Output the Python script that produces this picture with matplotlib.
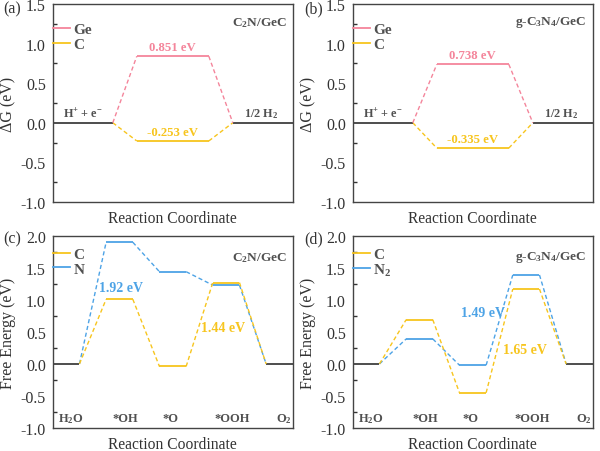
import numpy as np
import matplotlib
matplotlib.use('Agg')
import matplotlib.pyplot as plt

plt.rcParams['font.family'] = ['Liberation Serif', 'DejaVu Serif']
plt.rcParams['mathtext.default'] = 'regular'

# colours
PINK = '#F4859B'
YEL = '#F7C51E'
BLUE = '#4DA3E6'
GREY = '#505050'

# HER panels: level energies (eV) for start, intermediate, end
her_states = ['H$^{+}$ + e$^{-}$', '1/2 H$_2$']
her_a_ge = [0.0, 0.84, 0.0]
her_a_c = [0.0, -0.23, 0.0]
her_b_ge = [0.0, 0.738, 0.0]
her_b_c = [0.0, -0.32, 0.0]
her_a_lab = ['0.851 eV', '-0.253 eV']
her_b_lab = ['0.738 eV', '-0.335 eV']

# OER panels
oer_states = ['H$_2$O', '*OH', '*O', '*OOH', 'O$_2$']
oer_c_c = [0.0, 1.01, -0.04, 1.27, 0.0]
oer_c_n = [0.0, 1.90, 1.44, 1.23, 0.0]
oer_d_c = [0.0, 0.69, -0.45, 1.17, 0.0]
oer_d_n = [0.0, 0.39, -0.02, 1.39, 0.0]


def draw_path(ax, xs, ys, color, lw=1.3, black_ends=False):
    # xs: list of (x0,x1) level extents
    for i, (x0, x1) in enumerate(xs):
        c = color
        if black_ends and (i == 0 or i == len(xs) - 1):
            c = GREY
        ax.plot([x0, x1], [ys[i], ys[i]], '-', color=c, lw=lw, solid_capstyle='butt')
        if i > 0:
            ax.plot([xs[i-1][1], x0], [ys[i-1], ys[i]], '--', color=color, lw=1.0,
                    dashes=(3, 2))


def style_axes(ax, ylim, ylabel):
    ax.set_ylim(*ylim)
    ax.set_xticks([])
    ax.set_yticks(np.arange(ylim[0], ylim[1] + 0.01, 0.5))
    ax.set_yticks(np.arange(ylim[0] + 0.25, ylim[1], 0.5), minor=True)
    ax.set_yticklabels(['%.1f' % v for v in np.arange(ylim[0], ylim[1] + 0.01, 0.5)])
    ax.tick_params(axis='y', which='major', direction='in', length=0, width=1,
                   labelsize=11.5, colors='#333333', pad=5)
    ax.tick_params(axis='y', which='minor', direction='in', length=3, width=1, colors='#333333')
    for s in ax.spines.values():
        s.set_color('#444444')
        s.set_linewidth(1.0)
    ax.set_xlabel('Reaction Coordinate', fontsize=11.2, color='#333333', labelpad=6)
    ax.set_ylabel(ylabel, fontsize=11.5, color='#333333', labelpad=3)


fig = plt.figure(figsize=(6, 4.52), dpi=100)
ax_a = fig.add_axes([0.088, 0.551, 0.40, 0.438])
ax_b = fig.add_axes([0.588, 0.551, 0.40, 0.438])
ax_c = fig.add_axes([0.088, 0.051, 0.40, 0.425])
ax_d = fig.add_axes([0.588, 0.051, 0.40, 0.425])

# panel tags
for tag, x, y in [('(a)', 0.006, 0.980), ('(b)', 0.507, 0.980),
                  ('(c)', 0.006, 0.470), ('(d)', 0.507, 0.470)]:
    fig.text(x, y, tag, fontsize=11.5, color='#333333', ha='left', va='center')

her_x = [(0, 2.5), (3.5, 6.5), (7.5, 10)]
for ax, ge, cc, labs, title in [
        (ax_a, her_a_ge, her_a_c, her_a_lab, 'C$_2$N/GeC'),
        (ax_b, her_b_ge, her_b_c, her_b_lab, 'g-C$_3$N$_4$/GeC')]:
    draw_path(ax, her_x, cc, YEL, black_ends=True)
    draw_path(ax, her_x, ge, PINK, black_ends=True)
    ax.set_xlim(0, 10)
    style_axes(ax, (-1.0, 1.5), 'ΔG (eV)')
    ax.plot([], [], color=PINK, lw=1.3, label='Ge')
    ax.plot([], [], color=YEL, lw=1.3, label='C')
    ax.text(5.0, ge[1] + 0.04, labs[0], color=PINK, fontsize=9.2, fontweight='bold',
            ha='center', va='bottom')
    ax.text(5.0, cc[1] + 0.04, labs[1], color=YEL, fontsize=9.2, fontweight='bold',
            ha='center', va='bottom')
    ax.text(1.25, 0.04, her_states[0], color=GREY, fontsize=8.8, fontweight='bold',
            ha='center', va='bottom')
    ax.text(8.7, 0.04, her_states[1], color=GREY, fontsize=8.8, fontweight='bold',
            ha='center', va='bottom')
    ax.text(0.975, 0.91, title, transform=ax.transAxes, color=GREY, fontsize=9.6,
            fontweight='bold', ha='right', va='center')

oer_x = [(0, 1), (2, 3), (4, 5), (6, 7), (8, 9)]
state_lab_x = [0.68, 2.7, 4.42, 6.72, 8.68]
for ax, cc, nn, nlab, title, tb in [
        (ax_c, oer_c_c, oer_c_n, 'N', 'C$_2$N/GeC',
         ((2.55, 1.2, '1.92 eV'), (6.4, 0.57, '1.44 eV'))),
        (ax_d, oer_d_c, oer_d_n, 'N$_2$', 'g-C$_3$N$_4$/GeC',
         ((4.9, 0.8, '1.49 eV'), (6.45, 0.22, '1.65 eV')))]:
    draw_path(ax, oer_x, nn, BLUE, black_ends=True)
    draw_path(ax, oer_x, cc, YEL, black_ends=True)
    ax.set_xlim(0, 9)
    style_axes(ax, (-1.0, 2.0), 'Free Energy (eV)')
    ax.plot([], [], color=YEL, lw=1.3, label='C')
    ax.plot([], [], color=BLUE, lw=1.3, label=nlab)
    for i, s in enumerate(oer_states):
        ax.text(state_lab_x[i], -0.84, s, color=GREY, fontsize=9, fontweight='bold',
                ha='center', va='center')
    ax.text(tb[0][0], tb[0][1], tb[0][2], color=BLUE, fontsize=10, fontweight='bold',
            ha='center', va='center')
    ax.text(tb[1][0], tb[1][1], tb[1][2], color=YEL, fontsize=10, fontweight='bold',
            ha='center', va='center')
    ax.text(0.975, 0.89, title, transform=ax.transAxes, color=GREY, fontsize=9.6,
            fontweight='bold', ha='right', va='center')

for ax, top in [(ax_a, 0.905), (ax_b, 0.905), (ax_c, 0.94), (ax_d, 0.94)]:
    leg = ax.legend(loc='upper left', bbox_to_anchor=(0, top), frameon=False,
                    borderaxespad=0, borderpad=0, handlelength=1.1, handletextpad=0.25,
                    labelspacing=0.05, prop={'weight': 'bold', 'size': 11})
    for t in leg.get_texts():
        t.set_color(GREY)

fig.savefig('out.png', dpi=100)
